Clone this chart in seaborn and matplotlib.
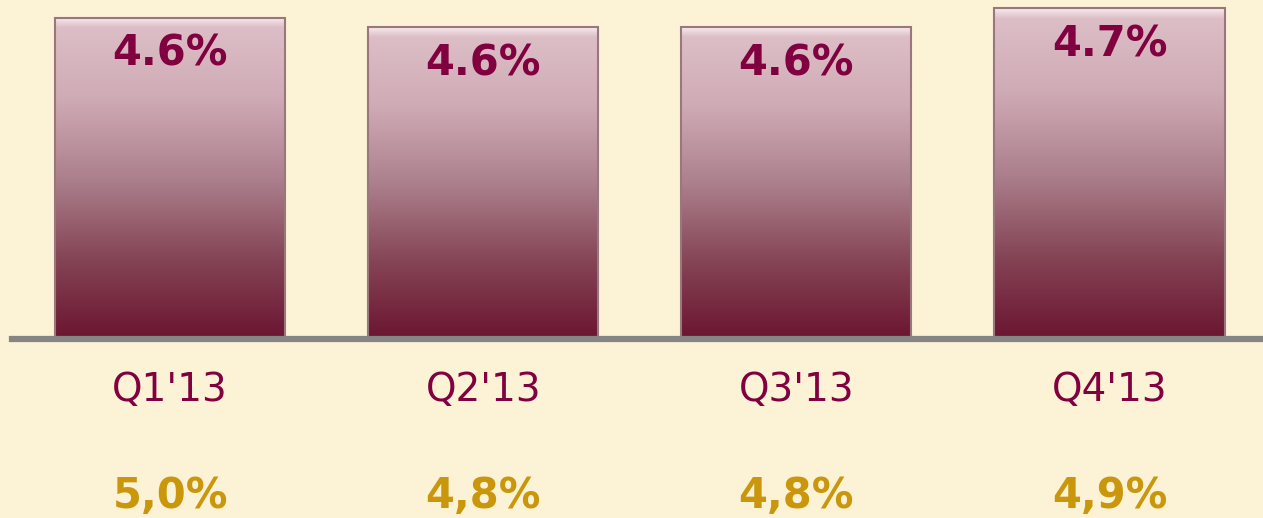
import numpy as np
import matplotlib
matplotlib.use('Agg')
import matplotlib.pyplot as plt
from matplotlib.colors import LinearSegmentedColormap
import seaborn as sb

# dati
kvartali = ["Q1'13", "Q2'13", "Q3'13", "Q4'13"]
vertibas = [4.64, 4.56, 4.56, 4.72]
apaksa_teksti = ['5,0%', '4,8%', '4,8%', '4,9%']

fons = '#FCF2D5'
tumsi_sarkans = '#800040'
zelts = '#C9960C'

sb.set_style('white')
plt.rcParams['font.family'] = ['DejaVu Sans']

fig = plt.figure(figsize=(12.63, 5.18), dpi=100, facecolor=fons)
ax = fig.add_axes([12 / 1263, 179 / 518, 1251 / 1263, 339 / 518])
ax.set_facecolor(fons)

sb.barplot(x=kvartali, y=vertibas, width=0.735, color='#B08A93', ax=ax)

ax.set_ylim(1.93, 4.79)
ax.set_xlim(-0.505, 3.49)

# stabiņu krāsu pāreja (gradient)
krasas = LinearSegmentedColormap.from_list('stabs', [
    (0.0, '#6B1531'), (0.25, '#854555'), (0.5, '#AC808D'),
    (0.75, '#CFABB5'), (0.97, '#DDBEC6'), (1.0, '#F6EAEE')])
gradients = np.linspace(0, 1, 256).reshape(-1, 1)
ymin = ax.get_ylim()[0]
for stabs in ax.patches:
    x0 = stabs.get_x()
    w = stabs.get_width()
    h = stabs.get_y() + stabs.get_height()
    im = ax.imshow(gradients, extent=[x0, x0 + w, ymin, h], origin='lower',
                   aspect='auto', cmap=krasas, zorder=2)
    im.set_clip_path(stabs)
    stabs.set_facecolor('none')
    stabs.set_edgecolor('#9A7780')
    stabs.set_linewidth(1.5)
    stabs.set_zorder(3)

ax.set_ylim(1.93, 4.79)
ax.set_xlim(-0.505, 3.49)

# vērtības stabiņos
for i, v in enumerate(vertibas):
    ax.annotate('{:.1f}%'.format(v), xy=(i, v), xytext=(0, -26),
                textcoords='offset points', ha='center', va='center',
                fontsize=30, fontweight='bold', color=tumsi_sarkans, zorder=4)

# apakšējie teksti
for i, t in enumerate(apaksa_teksti):
    ax.text(i, -0.462, t, transform=ax.get_xaxis_transform(), ha='center',
            va='center', fontsize=30, fontweight='bold', color=zelts)

for s in ['top', 'left', 'right']:
    ax.spines[s].set_visible(False)
ax.spines['bottom'].set_color('#858585')
ax.spines['bottom'].set_linewidth(4.5)
ax.spines['bottom'].set_zorder(5)

ax.set_yticks([])
ax.set_ylabel('')
ax.set_xlabel('')
ax.tick_params(axis='x', length=0, pad=23, labelsize=28, labelcolor=tumsi_sarkans)

plt.savefig('out.png', dpi=100, facecolor=fons)
